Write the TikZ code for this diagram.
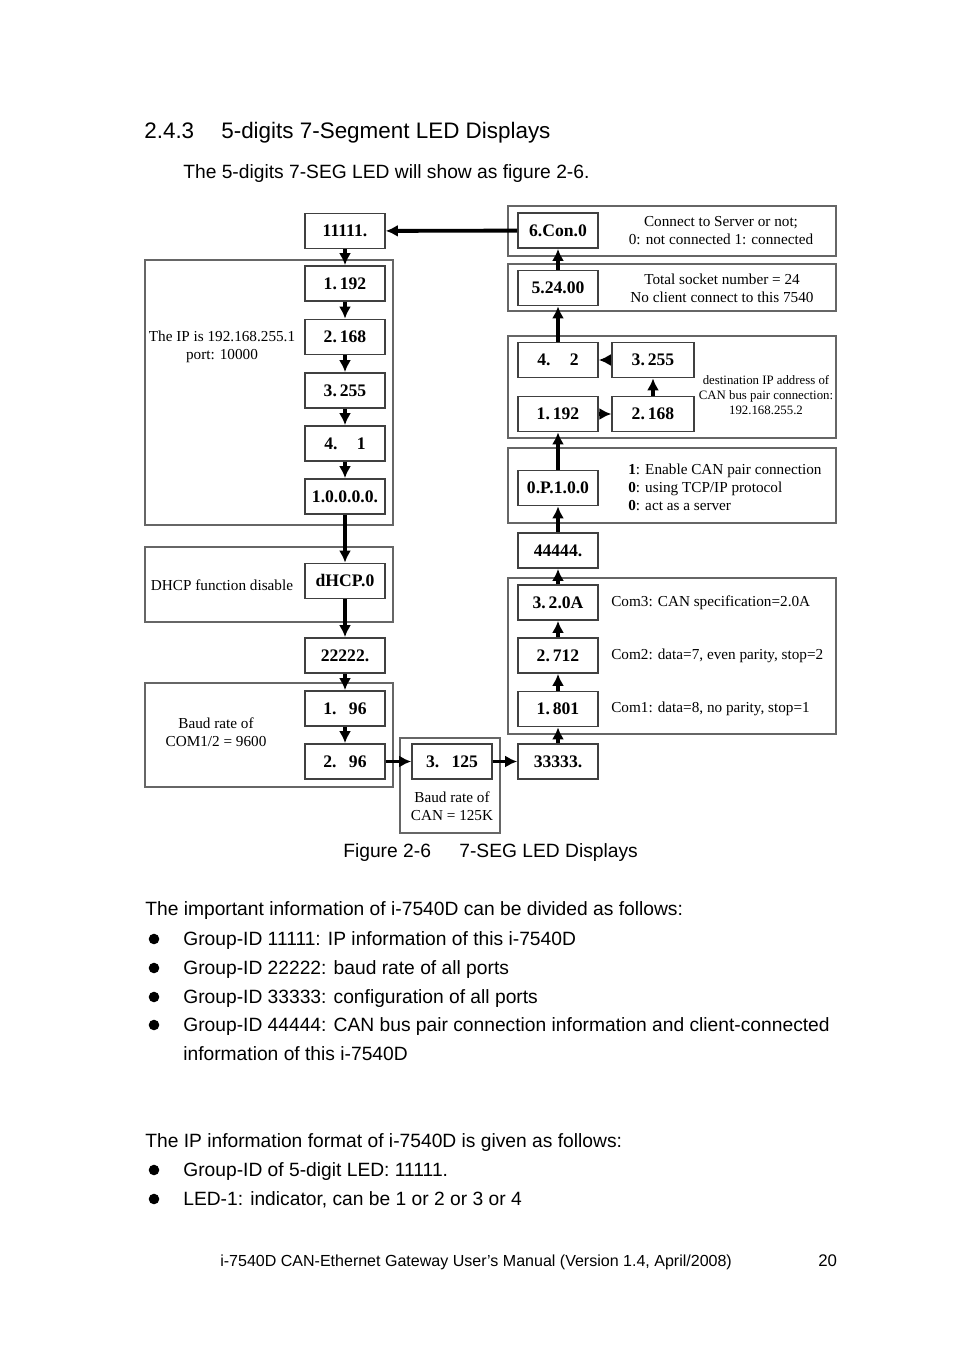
\documentclass[tikz,border=0pt]{standalone}
\usepackage{fontspec}
\setmainfont{Liberation Sans}
\newfontfamily\timesfont{Liberation Serif}
\usetikzlibrary{arrows.meta}
\tikzset{>={Latex[length=7.5pt,width=7.5pt]}}
\tikzset{
  led/.style={draw=black!75,line width=0.9pt,minimum width=50pt,minimum height=22pt,
    inner sep=0pt,font=\timesfont\fontsize{11}{13}\selectfont\bfseries},
  frame/.style={draw=black!60,line width=0.7pt},
  note/.style={inner sep=0pt,align=center,font=\timesfont\fontsize{9.5}{11.2}\selectfont},
  flow/.style={->,line width=2.4pt},
  body/.style={anchor=base west,inner sep=0pt,font=\fontsize{12}{14}\selectfont},
}

\begin{document}
\begin{tikzpicture}[x=0.624pt,y=-0.624pt]
\useasboundingbox[fill=white] (0,0) rectangle (954,1350);

% page text
\node[body,font=\fontsize{14}{16}\selectfont] (secno) at (144,139) {2.4.3};
\node[body,font=\fontsize{14}{16}\selectfont] (sectitle) at (221,139) {5-digits 7-Segment LED Displays};
\node[body] (intro) at (183,179) {The 5-digits 7-SEG LED will show as figure 2-6.};

% group frames
\draw[frame] (145,260) rectangle (393,525);
\draw[frame] (145,547) rectangle (393,622);
\draw[frame] (145,683) rectangle (393,787);
\draw[frame] (400,738) rectangle (500,833);
\draw[frame] (508,206) rectangle (836,256);
\draw[frame] (508,264) rectangle (836,311);
\draw[frame] (508,336) rectangle (836,438);
\draw[frame] (508,448) rectangle (836,523);
\draw[frame] (508,578) rectangle (836,734);

% left column
\node[led] (g1) at (345,231) {11111.};
\node[led] (ip1) at (345,283.5) {1.\,192};
\node[led] (ip2) at (345,337) {2.\,168};
\node[led] (ip3) at (345,390.5) {3.\,255};
\node[led] (ip4) at (345,443.5) {4.\hspace{1.1em}1};
\node[led] (port) at (345,496.5) {1.0.0.0.0.};
\node[led] (dhcp) at (345,581) {dHCP.0};
\node[led] (g2) at (345,655.5) {22222.};
\node[led] (com1) at (345,708.5) {1.\hspace{0.7em}96};
\node[led] (com2) at (345,761.5) {2.\hspace{0.7em}96};
\node[led] (can) at (452,761.5) {3.\hspace{0.7em}125};

% right column
\node[led] (g3) at (558,761.5) {33333.};
\node[led] (cfg1) at (558,709) {1.\,801};
\node[led] (cfg2) at (558,655.5) {2.\,712};
\node[led] (cfg3) at (558,602.5) {3.\,2.0A};
\node[led] (g4) at (558,550.5) {44444.};
\node[led] (pair) at (558,488) {0.P.1.0.0};
\node[led] (dst1) at (558,414) {1.\,192};
\node[led,minimum width=51pt] (dst2) at (653,414) {2.\,168};
\node[led,minimum width=51pt] (dst3) at (653,360) {3.\,255};
\node[led] (dst4) at (558,360) {4.\hspace{1.1em}2};
\node[led] (sock) at (558,288) {5.24.00};
\node[led] (con) at (558,230.5) {6.Con.0};

% connectors
\foreach \a/\b in {con/g1,g1/ip1,ip1/ip2,ip2/ip3,ip3/ip4,ip4/port,port/dhcp,dhcp/g2,
    g2/com1,com1/com2,com2/can,can/g3,g3/cfg1,cfg1/cfg2,cfg2/cfg3,cfg3/g4,g4/pair,
    pair/dst1,dst1/dst2,dst2/dst3,dst3/dst4,dst4/sock,sock/con}
  \draw[flow] (\a) -- (\b);

% notes
\node[note] (ipnote) at (222,347) {The IP is 192.168.255.1\\port: 10000};
\node[note] (dhcpnote) at (222,585) {DHCP function disable};
\node[note] (comnote) at (216,732) {Baud rate of\\COM1/2 = 9600};
\node[note] (cannote) at (452,806) {Baud rate of\\CAN = 125K};
\node[note] (connote) at (721,231) {Connect to Server or not;\\0: not connected 1: connected};
\node[note] (socknote) at (722,288) {Total socket number = 24\\No client connect to this 7540};
\node[note,font=\timesfont\fontsize{8}{9.4}\selectfont] (dstnote) at (766,395)
  {destination IP address of\\CAN bus pair connection:\\192.168.255.2};
\node[note,align=left,anchor=west] (pairnote) at (628,487)
  {\textbf{1}: Enable CAN pair connection\\\textbf{0}: using TCP/IP protocol\\\textbf{0}: act as a server};
\node[note,anchor=west] (cfg3note) at (611,603) {Com3: CAN specification=2.0A};
\node[note,anchor=west] (cfg2note) at (611,656) {Com2: data=7, even parity, stop=2};
\node[note,anchor=west] (cfg1note) at (611,709) {Com1: data=8, no parity, stop=1};

% caption and text below
\node[body] (capno) at (343,857) {Figure 2-6};
\node[body] (captext) at (459,857) {7-SEG LED Displays};
\node[body] (groups) at (145,915) {The important information of i-7540D can be divided as follows:};
\node[body] (grp1) at (183,945) {Group-ID 11111: IP information of this i-7540D};
\node[body] (grp2) at (183,974) {Group-ID 22222: baud rate of all ports};
\node[body] (grp3) at (183,1003) {Group-ID 33333: configuration of all ports};
\node[body] (grp4) at (183,1031) {Group-ID 44444: CAN bus pair connection information and client-connected};
\node[body] (grp4b) at (183,1060) {information of this i-7540D};
\node[body] (format) at (145,1147) {The IP information format of i-7540D is given as follows:};
\node[body] (fmt1) at (183,1176) {Group-ID of 5-digit LED: 11111.};
\node[body] (fmt2) at (183,1205) {LED-1: indicator, can be 1 or 2 or 3 or 4};
\foreach \y in {939,968,997,1025,1170,1199}
  \fill (154,\y) circle[radius=3.3pt];

% footer
\node[body,font=\fontsize{10}{12}\selectfont] (footer) at (220,1266)
  {i-7540D CAN-Ethernet Gateway User’s Manual (Version 1.4, April/2008)};
\node[body,font=\fontsize{10.5}{12}\selectfont] (pageno) at (818,1266) {20};
\end{tikzpicture}
\end{document}
